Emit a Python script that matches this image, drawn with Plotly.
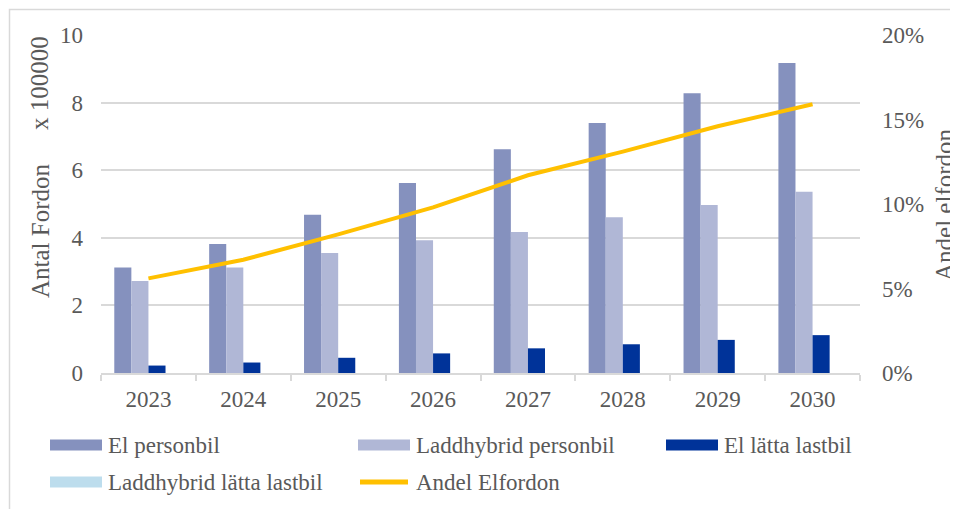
import plotly.graph_objects as go

# Data (x 100000 vehicles, share as fraction)
years = ['2023', '2024', '2025', '2026', '2027', '2028', '2029', '2030']
el_personbil = [3.12, 3.82, 4.68, 5.62, 6.62, 7.40, 8.28, 9.17]
laddhybrid_personbil = [2.72, 3.12, 3.55, 3.93, 4.17, 4.61, 4.97, 5.36]
el_latta_lastbil = [0.22, 0.31, 0.45, 0.58, 0.73, 0.85, 0.98, 1.12]
laddhybrid_latta_lastbil = [0, 0, 0, 0, 0, 0, 0, 0]
andel_elfordon = [0.056, 0.067, 0.082, 0.098, 0.117, 0.131, 0.146, 0.159]

bar_names = ['El personbil', 'Laddhybrid personbil', 'El lätta lastbil', 'Laddhybrid lätta lastbil']
bar_values = [el_personbil, laddhybrid_personbil, el_latta_lastbil, laddhybrid_latta_lastbil]
bar_colors = ['#8591BE', '#B0B7D6', '#003399', '#BDDDED']
line_name = 'Andel Elfordon'
line_color = '#FFC000'

FONT = 'Liberation Serif'
TXT = '#595959'
GRID = '#D9D9D9'

# page has 8px body margin, so the figure starts at (8, 8) in the window
OFF = 8
W, H = 958 - OFF, 509 - OFF
# wanted plot area in window pixels: x 101..860, y 35..373
L, R, T, B = 101 - OFF, 958 - 860, 35 - OFF, 509 - 373
PW, PH = W - L - R, H - T - B


def px_x(x):
    # window pixel -> paper coordinate
    return (x - OFF - L) / PW


def px_y(y):
    return (H - B - (y - OFF)) / PH


fig = go.Figure()

for name, vals, col in zip(bar_names, bar_values, bar_colors):
    fig.add_trace(go.Bar(x=years, y=vals, name=name, marker_color=col,
                         marker_line_width=0, showlegend=False))

fig.add_trace(go.Scatter(x=years, y=andel_elfordon, name=line_name, yaxis='y2',
                         mode='lines', line=dict(color=line_color, width=4),
                         showlegend=False))

fig.update_layout(
    width=W, height=H,
    margin=dict(l=L, r=R, t=T, b=B),
    barmode='group', bargap=0.28, bargroupgap=0,
    plot_bgcolor='white', paper_bgcolor='white',
    font=dict(family=FONT, size=23, color=TXT),
    xaxis=dict(type='category', tickson='boundaries', ticks='outside', ticklen=6,
               tickcolor=GRID, tickwidth=1.5, showline=True, linecolor=GRID,
               linewidth=1.5, showgrid=False, ticklabelstandoff=5,
               tickfont=dict(size=23, color=TXT)),
    yaxis=dict(range=[0, 10], dtick=2, showgrid=True, gridcolor=GRID, gridwidth=1.5,
               zeroline=False, showline=False, ticks='', ticklabelstandoff=17,
               tickfont=dict(size=23, color=TXT)),
    yaxis2=dict(range=[0, 0.2], dtick=0.05, tickformat='.0%', overlaying='y',
                side='right', showgrid=False, zeroline=False, showline=False,
                ticks='', ticklabelstandoff=21, tickfont=dict(size=23, color=TXT)),
)

# outer chart border
fig.add_shape(type='rect', xref='paper', yref='paper',
              x0=px_x(9.5), x1=px_x(1000), y0=px_y(9.5), y1=px_y(600),
              line=dict(color=GRID, width=1.5), fillcolor='rgba(0,0,0,0)', layer='below')

# axis titles
annots = [
    dict(text='Antal Fordon', x=px_x(40), y=px_y(231)),
    dict(text='x 100000', x=px_x(40), y=px_y(83)),
    dict(text='Andel elfordon', x=px_x(944), y=px_y(205)),
]
for a in annots:
    fig.add_annotation(text=a['text'], x=a['x'], y=a['y'], xref='paper', yref='paper',
                       textangle=-90, showarrow=False,
                       xanchor='center', yanchor='middle',
                       font=dict(family=FONT, size=25, color=TXT))

# legend drawn by hand (wide swatches as in the original)
legend_items = [(n, c, 'bar') for n, c in zip(bar_names, bar_colors)] + [(line_name, line_color, 'line')]
col_x = [50, 358, 666]
row_y = [445, 482]
for i, (name, col, kind) in enumerate(legend_items):
    x0 = col_x[i % 3]
    yc = row_y[i // 3]
    if kind == 'bar':
        fig.add_shape(type='rect', xref='paper', yref='paper',
                      x0=px_x(x0), x1=px_x(x0 + 52), y0=px_y(yc + 5.5), y1=px_y(yc - 5.5),
                      line_width=0, fillcolor=col)
    else:
        fig.add_shape(type='line', xref='paper', yref='paper',
                      x0=px_x(x0 + 2), x1=px_x(x0 + 50), y0=px_y(yc), y1=px_y(yc),
                      line=dict(color=col, width=5))
    fig.add_annotation(text=name, x=px_x(x0 + 56), y=px_y(yc), xref='paper', yref='paper',
                       showarrow=False, xanchor='left', yanchor='middle',
                       font=dict(family=FONT, size=23, color=TXT))

fig.write_html('out.html')
